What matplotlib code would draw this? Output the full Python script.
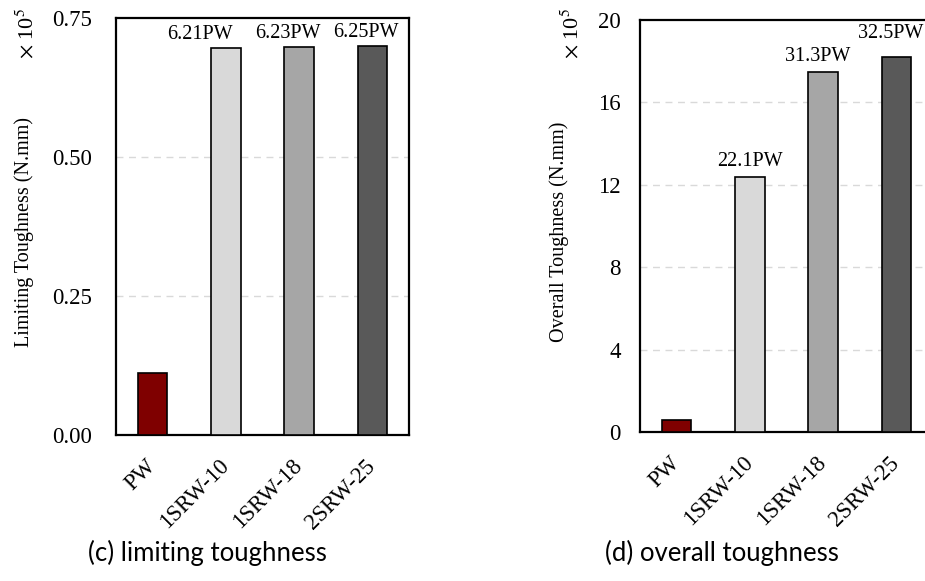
import matplotlib
matplotlib.use("Agg")
import matplotlib.pyplot as plt
import numpy as np

# specimen groups and toughness results (x 10^5 N.mm)
specimens = ["PW", "1SRW-10", "1SRW-18", "2SRW-25"]
limiting = [0.112, 0.6955, 0.698, 0.700]
overall = [0.56, 12.38, 17.5, 18.2]
limiting_ratio = ["", "6.21PW", "6.23PW", "6.25PW"]
overall_ratio = ["", "22.1PW", "31.3PW", "32.5PW"]

colors = ["#7f0000", "#d9d9d9", "#a6a6a6", "#595959"]

plt.rcParams["font.family"] = "Liberation Serif"
plt.rcParams["mathtext.fontset"] = "stix"

fig = plt.figure(figsize=(9.25, 5.81), dpi=100)
W, H = 925.0, 581.0


def panel(rect, vals, ratios, offsets, ylim, yticks, fmt, ylabel, ypad,
          caption, cap_x, label_x, expo_x):
    ax = fig.add_axes(rect)
    x = np.arange(len(vals))
    ax.bar(x, vals, width=0.4, color=colors, edgecolor="black", linewidth=1.2, zorder=3)
    ax.set_xlim(-0.5, 3.5)
    ax.set_ylim(*ylim)
    ax.set_yticks(yticks)
    ax.set_yticklabels([fmt.format(t) for t in yticks], fontsize=16.5)
    ax.set_xticks(x)
    ax.set_xticklabels(specimens, rotation=45, ha="right", va="center",
                       rotation_mode="anchor", fontsize=16.5)
    ax.tick_params(axis="y", length=0, pad=ypad)
    ax.tick_params(axis="x", length=0, pad=20)
    for t in yticks[1:-1]:
        ax.axhline(t, color="#d9d9d9", linestyle=(0, (5, 4)), linewidth=1.0, zorder=1)
    for s in ax.spines.values():
        s.set_linewidth(1.6)
    for xi, v, r, off in zip(x, vals, ratios, offsets):
        if r:
            ax.annotate(r, (xi, v), xytext=off, textcoords="offset points",
                        ha="center", va="bottom", fontsize=14.5)
    ax.set_ylabel(ylabel, fontsize=14.5, va="center")
    ax.yaxis.set_label_coords(label_x / W, 1 - 232 / H, transform=fig.transFigure)
    fig.text(expo_x / W, 1 - 33 / H, r"$\times$ 10$^5$", rotation=90,
             ha="center", va="center", fontsize=16)
    fig.text(cap_x / W, 1 - 553 / H, caption, ha="center", va="center",
             fontsize=18.5, family="Lato")
    return ax


panel([116 / W, 1 - 435 / H, 293 / W, 417 / H], limiting, limiting_ratio,
      [(0, 0), (-19, 3), (-8, 3), (-5, 3)],
      (0, 0.75), [0, 0.25, 0.5, 0.75], "{:.2f}",
      "Limiting Toughness (N.mm)", 17,
      "(c) limiting toughness", 207, 24, 27)

panel([640 / W, 1 - 432 / H, 293 / W, 412 / H], overall, overall_ratio,
      [(0, 0), (0, 4), (-4, 4), (-4, 10)],
      (0, 20), [0, 4, 8, 12, 16, 20], "{:d}",
      "Overall Toughness (N.mm)", 14,
      "(d) overall toughness", 722, 559, 572)

fig.savefig("out.png", dpi=100)
